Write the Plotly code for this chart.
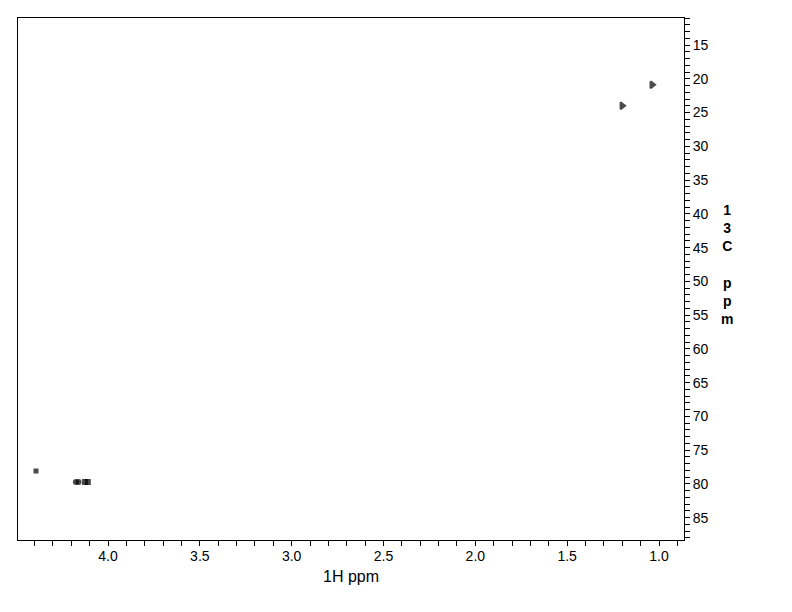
import plotly.graph_objects as go

# Cross peaks (1H ppm, 13C ppm)
peak_h = [4.392, 4.175, 4.160, 4.125, 4.110, 1.201, 1.038]
peak_c = [78.1, 79.7, 79.7, 79.7, 79.7, 24.0, 20.9]
peak_sym = ["square", "circle", "circle", "square", "square", "triangle-right", "triangle-right"]
peak_size = [3, 4, 4, 4, 4, 6, 6]

x_range = [4.49, 0.864]
y_range = [88.3, 11.0]

OFF = 8  # page body margin

fig = go.Figure()
fig.add_trace(go.Scatter(
    x=peak_h, y=peak_c, mode="markers",
    marker=dict(symbol=peak_sym, size=peak_size, color="black",
                line=dict(color="black", width=2)),
    showlegend=False, hoverinfo="skip"))

axis_font = dict(family="Liberation Sans, Arial, sans-serif", size=14, color="black")

fig.update_layout(
    width=792, height=612,
    margin=dict(l=18 - OFF, r=108 + OFF, t=18 - OFF, b=72 + OFF),
    paper_bgcolor="white", plot_bgcolor="white",
    font=axis_font,
    xaxis=dict(range=x_range, showgrid=False, zeroline=False,
               showline=True, linecolor="black", linewidth=1, mirror=True,
               ticks="outside", ticklen=5, tickcolor="black",
               tick0=0, dtick=0.5, tickformat=".1f", ticklabelstandoff=-2,
               minor=dict(ticks="outside", ticklen=5, dtick=0.1, tickcolor="black"),
               title=dict(text="1H ppm", font=dict(size=16), standoff=8)),
    yaxis=dict(range=y_range, side="right", showgrid=False, zeroline=False,
               showline=True, linecolor="black", linewidth=1, mirror=True,
               ticks="outside", ticklen=5, tickcolor="black",
               tick0=0, dtick=5,
               minor=dict(ticks="outside", ticklen=5, dtick=1, tickcolor="black")),
    annotations=[dict(text="<b>1<br>3<br>C<br><br>p<br>p<br>m</b>",
                      xref="paper", yref="paper", x=(727 - 18) / 666, y=(540 - 264) / 522,
                      showarrow=False, xanchor="center", yanchor="middle",
                      font=dict(family="Liberation Sans, Arial, sans-serif", size=14, color="black"))],
)

fig.write_html("out.html")
